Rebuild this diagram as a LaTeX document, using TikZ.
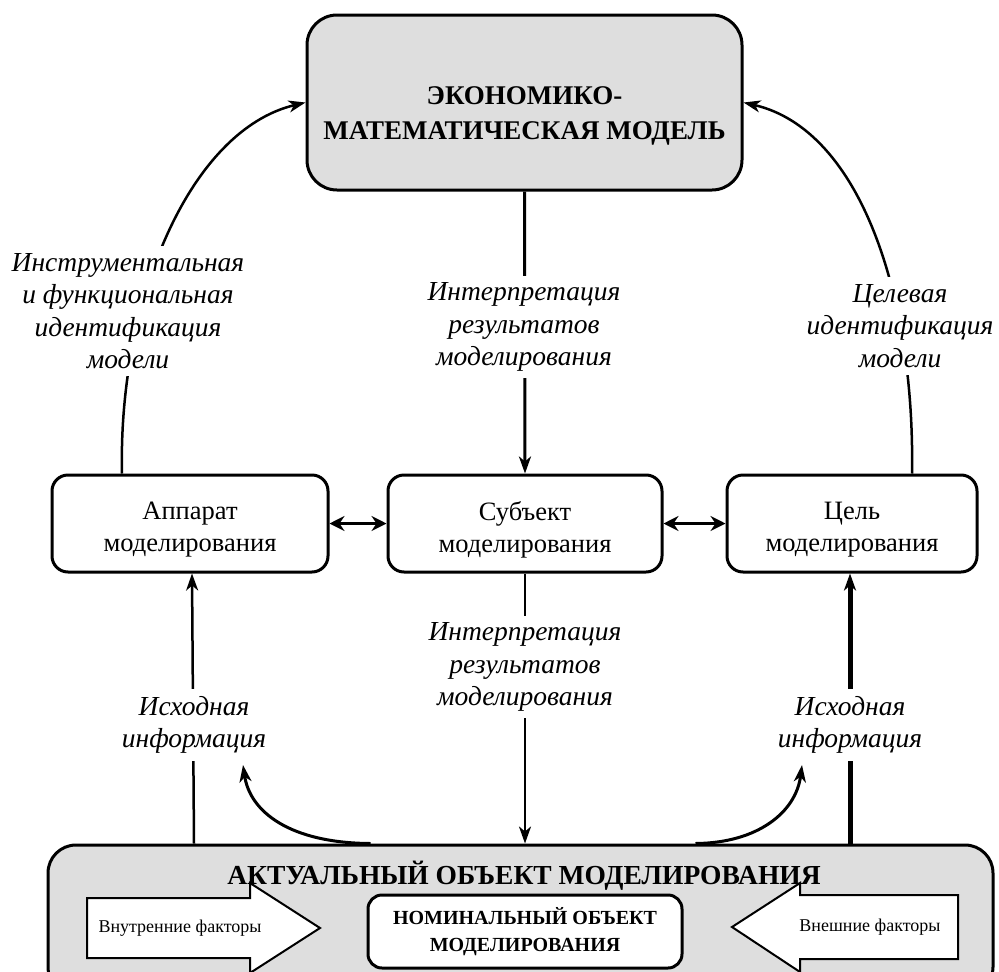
\documentclass[tikz,border=0pt]{standalone}
\usepackage{fontspec}
\setmainfont{Liberation Serif}
\usetikzlibrary{arrows.meta,calc}
\definecolor{boxgray}{HTML}{DEDEDE}
\begin{document}
\begin{tikzpicture}[x=1pt,y=-1pt,
  bigbox/.style={draw, line width=3pt, fill=boxgray, rounded corners=30pt, inner sep=0pt},
  midbox/.style={draw, line width=3pt, fill=white, rounded corners=16pt, inner sep=0pt, minimum height=97pt},
  boxtext/.style={align=center, font=\fontsize{26.5}{32}\selectfont},
  lbl/.style={fill=white, inner sep=7pt, align=center, font=\itshape\fontsize{27.5}{32.5}\selectfont},
  tipA/.style={-{Stealth[length=17pt,width=12pt,inset=5pt]}},
  dblA/.style={{Stealth[length=15pt,width=15pt,inset=5pt]}-{Stealth[length=15pt,width=15pt,inset=5pt]}, line width=3.5pt},
  blockarrow/.style={draw, line width=2pt, fill=white}
]
\useasboundingbox (0,0) rectangle (999,972);
\clip (0,0) rectangle (999,972);

% main boxes
\node[bigbox, minimum width=435pt, minimum height=175pt] (top) at (524.5,102.5) {};
\node[font=\bfseries\fontsize{27}{35}\selectfont, align=center] (toptext) at (524.5,116)
  {ЭКОНОМИКО-\\МАТЕМАТИЧЕСКАЯ МОДЕЛЬ};

\node[midbox, minimum width=276pt] (app) at (190,523.5) {};
\node[midbox, minimum width=274pt] (subj) at (525,523.5) {};
\node[midbox, minimum width=250pt] (goal) at (852,523.5) {};
\node[boxtext] (appt) at (190,530) {Аппарат\\моделирования};
\node[boxtext] (subjt) at (525,530) {Субъект\\моделирования};
\node[boxtext] (goalt) at (852,530) {Цель\\моделирования};

\node[bigbox, rounded corners=28pt, minimum width=945pt, minimum height=150pt] (bot) at (520.5,920) {};

% connectors top
\draw[tipA, line width=3pt] (top.south) -- (subj.north);
\draw[tipA, line width=2.5pt] ([xshift=-68pt]app.north) .. controls (118,300) and (190,130) .. (top.west);
\draw[tipA, line width=2.5pt] ([xshift=60pt]goal.north) .. controls (915,300) and (862,130) .. (top.east);

\node[lbl] (l1) at (128,311) {Инструментальная\\и функциональная\\идентификация\\модели};
\node[lbl] (l2) at (524,327) {Интерпретация\\результатов\\моделирования};
\node[lbl] (l3) at (900,326) {Целевая\\идентификация\\модели};

% double arrows
\draw[dblA] (app.east) -- (subj.west);
\draw[dblA] (subj.east) -- (goal.west);

% connectors bottom
\draw[tipA, line width=2.5pt] (subj.south) -- (subj.south |- bot.north);
\draw[tipA, line width=2.5pt] ([xshift=4pt]app.south |- bot.north) -- ([xshift=2pt]app.south);
\draw[tipA, line width=5pt] ([xshift=-2pt]goal.south |- bot.north) -- ([xshift=-2pt]goal.south);

\coordinate (lc) at (243,765);
\coordinate (rc) at (802,765);
\draw[tipA, line width=3pt] ([xshift=-150pt]bot.north) .. controls (290,843) and (250,812) .. (lc);
\draw[tipA, line width=3pt] ([xshift=175pt]bot.north) .. controls (758,843) and (796,812) .. (rc);

\node[lbl] (l4) at (525,667) {Интерпретация\\результатов\\моделирования};
\node[lbl] (l5) at (194,725) {Исходная\\информация};
\node[lbl] (l6) at (850,725) {Исходная\\информация};

% bottom content
\node[font=\bfseries\fontsize{27.5}{30}\selectfont] (bottitle) at (524,876) {АКТУАЛЬНЫЙ ОБЪЕКТ МОДЕЛИРОВАНИЯ};

\draw[blockarrow] (87,898) -- (250,898) -- (250,883) -- (320,928) -- (250,973) -- (250,958) -- (87,958) -- cycle;
\draw[blockarrow] (958,895) -- (800,895) -- (800,883) -- (732,927) -- (800,972) -- (800,959) -- (958,959) -- cycle;
\node[font=\fontsize{18}{20}\selectfont] (inner) at (180,928) {Внутренние факторы};
\node[font=\fontsize{18}{20}\selectfont] (outer) at (870,927) {Внешние факторы};

\node[draw, line width=3pt, fill=white, rounded corners=14pt, minimum width=314pt, minimum height=73pt,
  inner sep=0pt, align=center, font=\bfseries\fontsize{20}{27}\selectfont] (nom) at (525,931.5)
  {НОМИНАЛЬНЫЙ ОБЪЕКТ\\МОДЕЛИРОВАНИЯ};
\end{tikzpicture}
\end{document}
